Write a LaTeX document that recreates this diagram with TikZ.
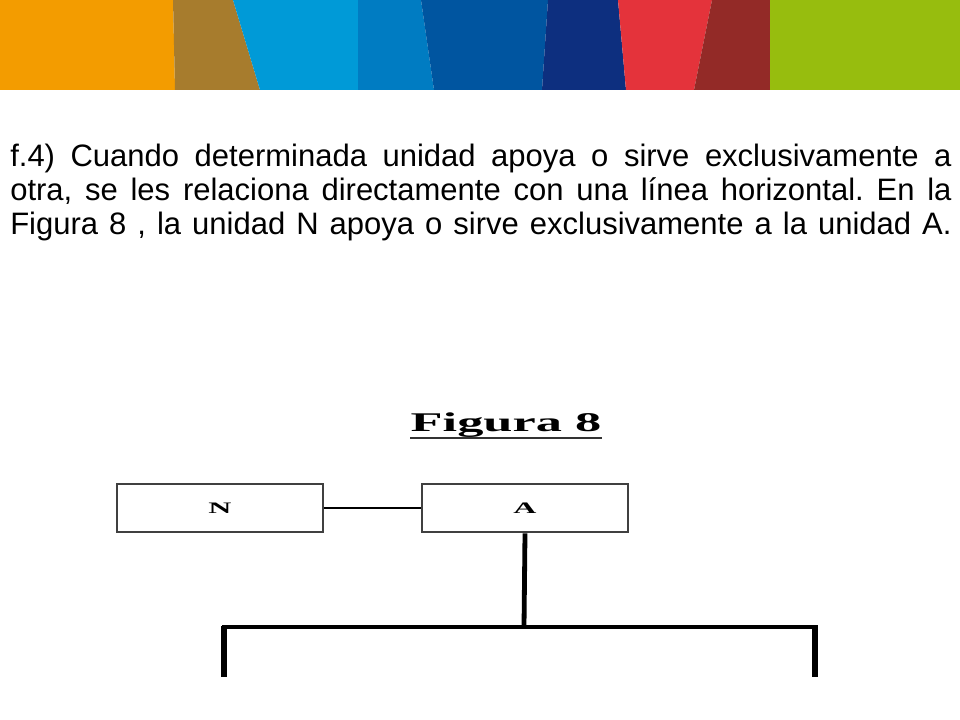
\documentclass[tikz,border=0pt]{standalone}
\usepackage{fontspec}
\setmainfont{Liberation Sans}
\newfontfamily\timesfont{Liberation Serif}
\usetikzlibrary{positioning}
\definecolor{cOrange}{HTML}{F39C00}
\definecolor{cBrown}{HTML}{A77C2D}
\definecolor{cLBlue}{HTML}{009AD7}
\definecolor{cMBlue}{HTML}{007CC2}
\definecolor{cBlue}{HTML}{0055A0}
\definecolor{cNavy}{HTML}{0D2F7F}
\definecolor{cRed}{HTML}{E4333B}
\definecolor{cDRed}{HTML}{932A27}
\definecolor{cGreen}{HTML}{97BD0E}
\tikzset{
  unitbox/.style={draw=black!75, line width=2pt, minimum width=154.5pt, minimum height=36pt, inner sep=0pt,
    font=\timesfont\bfseries\fontsize{12pt}{13pt}\selectfont},
  thinlink/.style={draw=black, line width=2pt},
  thicklink/.style={draw=black, line width=3.6pt},
  barlink/.style={draw=black, line width=3pt},
  leglink/.style={draw=black, line width=4.6pt}
}
\begin{document}
\begin{tikzpicture}[x=0.75pt,y=-0.75pt]
\useasboundingbox (0,0) rectangle (960,720);
% banner
\fill[cOrange] (0,0) -- (173,0) -- (175,90) -- (0,90) -- cycle;
\fill[cBrown] (173,0) -- (233,0) -- (260,90) -- (175,90) -- cycle;
\fill[cLBlue] (233,0) -- (358,0) -- (358,90) -- (260,90) -- cycle;
\fill[cMBlue] (358,0) -- (421,0) -- (434,90) -- (358,90) -- cycle;
\fill[cBlue] (421,0) -- (548,0) -- (542,90) -- (434,90) -- cycle;
\fill[cNavy] (548,0) -- (618,0) -- (626,90) -- (542,90) -- cycle;
\fill[cRed] (618,0) -- (712,0) -- (694,90) -- (626,90) -- cycle;
\fill[cDRed] (712,0) -- (770,0) -- (770,90) -- (694,90) -- cycle;
\fill[cGreen] (770,0) -- (960,0) -- (960,90) -- (770,90) -- cycle;
% paragraph
\node[anchor=north west, inner sep=0pt, text width=706pt, align=justify,
  font=\fontsize{23.25pt}{25.5pt}\selectfont] (para) at (10,144)
  {\frenchspacing\hyphenpenalty=10000 \spaceskip=8.6pt plus 8pt minus 2pt\relax
  f.4) Cuando determinada unidad apoya o sirve exclusivamente a\linebreak otra, se les relaciona directamente con una línea horizontal. En la\linebreak Figura 8 , la unidad N apoya o sirve exclusivamente a la unidad A.};
% figure title
\node[anchor=base, inner sep=0pt, font=\timesfont\bfseries\fontsize{20.25pt}{22pt}\selectfont] (title) at (506,431)
  {\scalebox{1.94}[1]{Figura 8}};
\draw[black!80, line width=1.3pt] ([yshift=-0.4pt]title.south west) -- ([yshift=-0.4pt]title.south east);
% boxes
\node[unitbox] (N) at (220,508) {\scalebox{2}[1]{N}};
\node[unitbox] (A) at (525,508) {\scalebox{2}[1]{A}};
\draw[thinlink] (N.east) -- (A.west);
% tree
\coordinate (bm) at (524,627);
\coordinate (bl) at (222,627);
\coordinate (br) at (818,627);
\coordinate (ll) at (224,677);
\coordinate (rl) at (815,677);
\draw[thicklink] (A.south) -- (bm);
\draw[barlink] (bl) -- (br);
\draw[leglink] (bl -| ll) ++(0,-1) -- (ll);
\draw[leglink] (br -| rl) ++(0,-1) -- (rl);
\end{tikzpicture}
\end{document}
